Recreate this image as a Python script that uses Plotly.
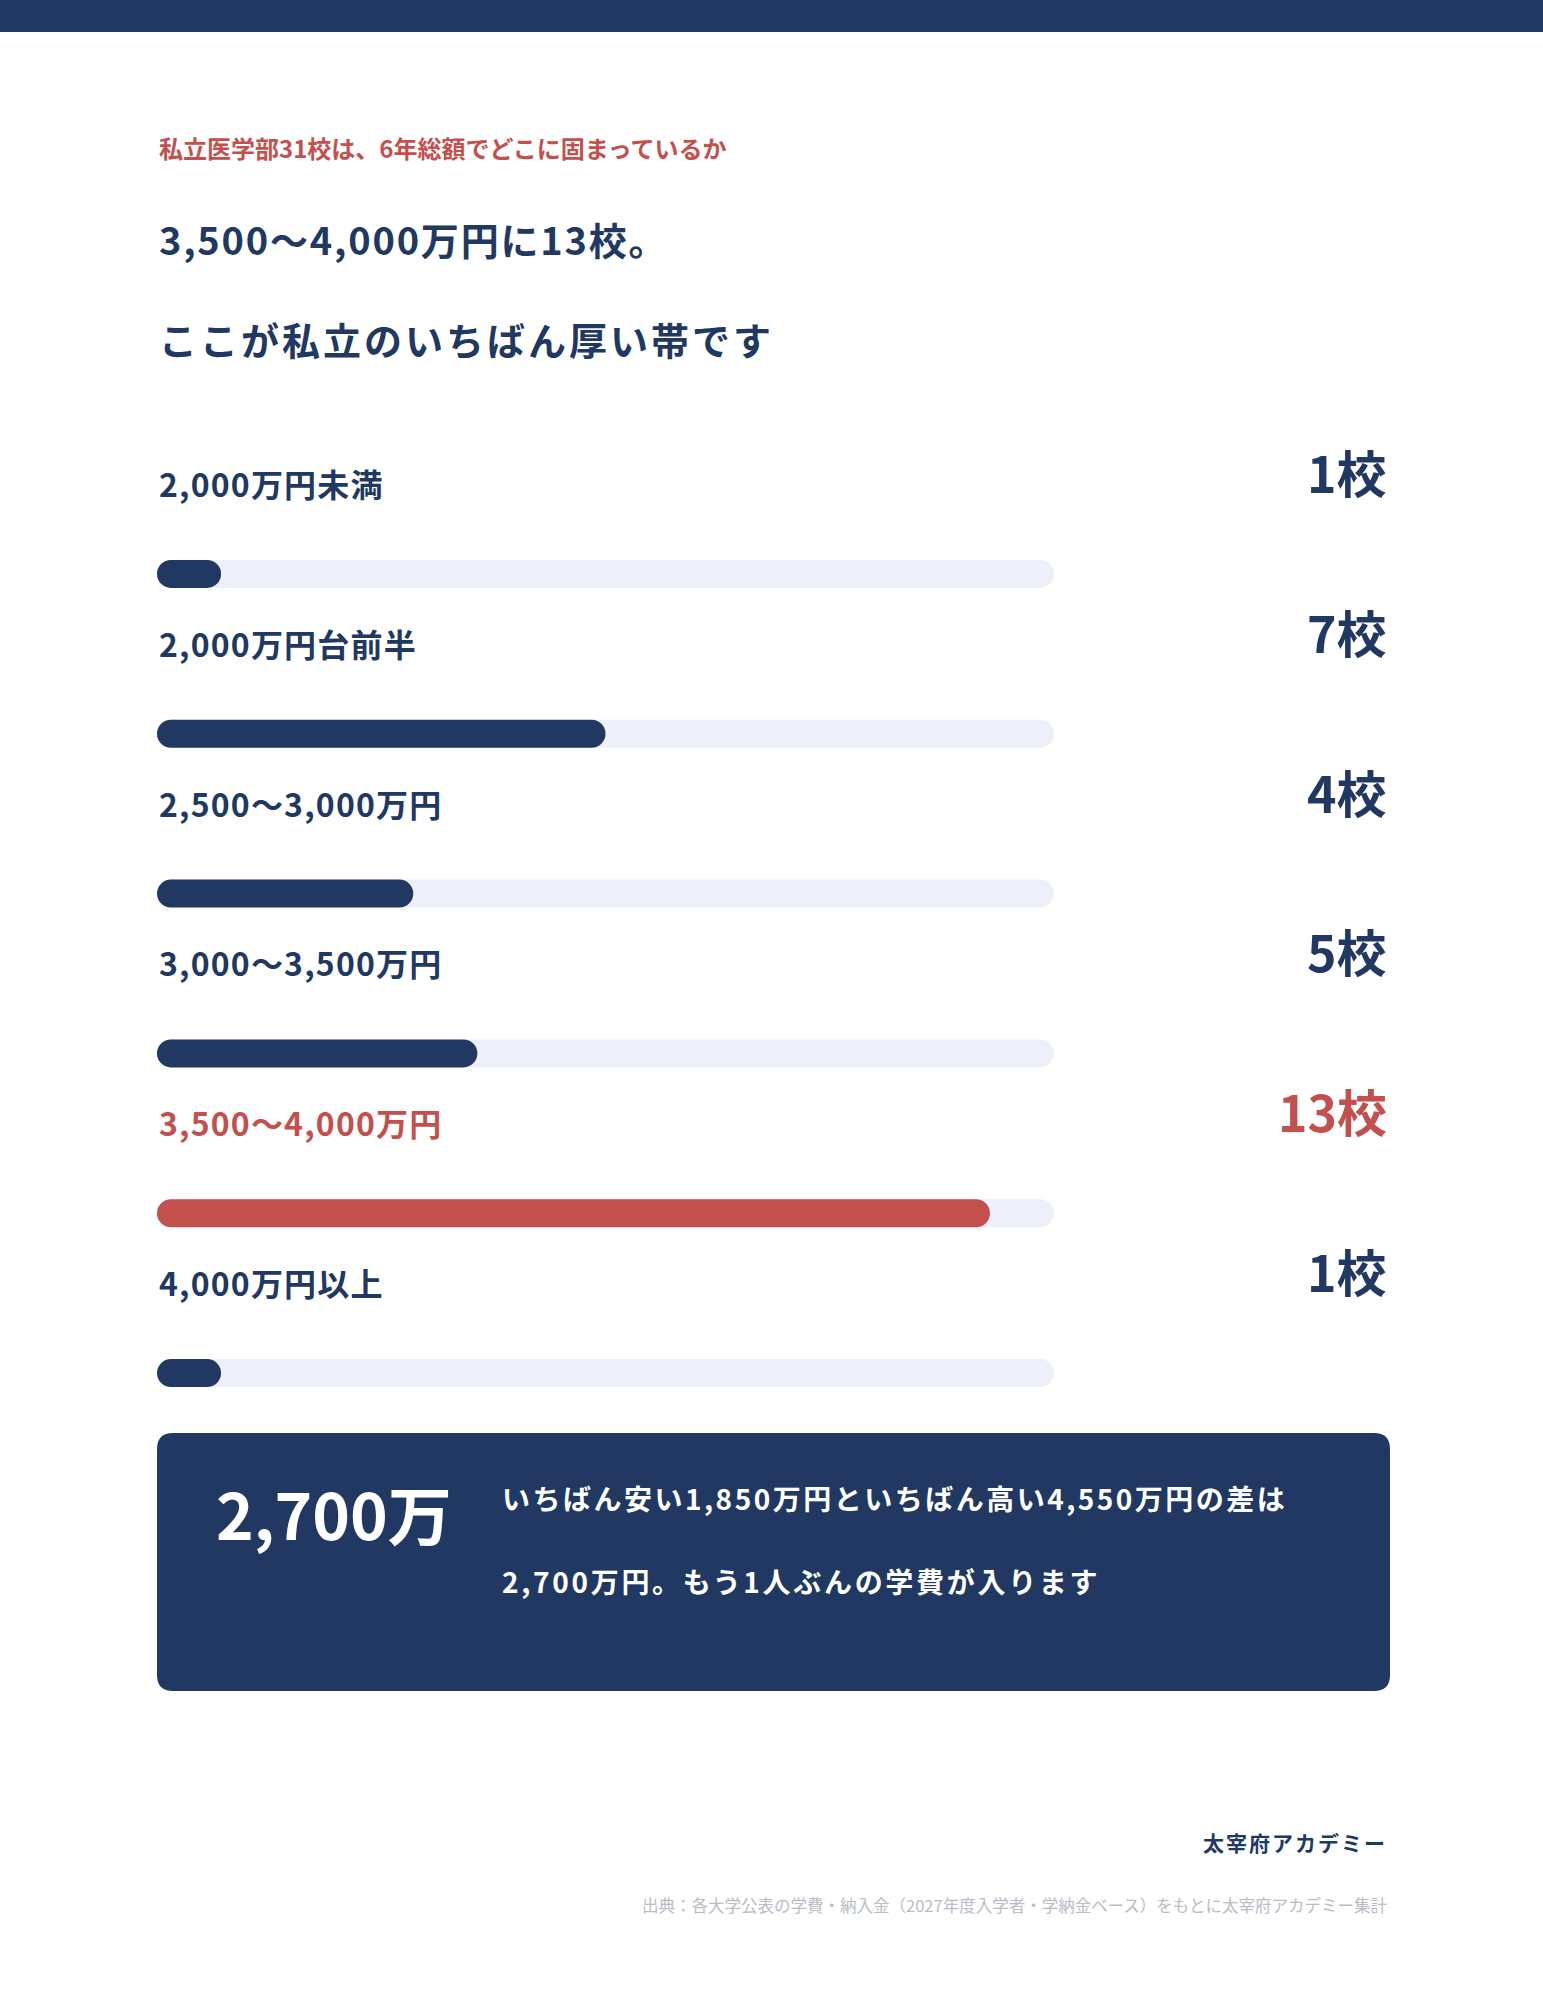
import plotly.graph_objects as go

W, H = 1543, 2000

# ---- data ----
categories = ["2,000万円未満", "2,000万円台前半", "2,500〜3,000万円",
              "3,000〜3,500万円", "3,500〜4,000万円", "4,000万円以上"]
counts = [1, 7, 4, 5, 13, 1]
count_labels = ["1校", "7校", "4校", "5校", "13校", "1校"]
highlight = "3,500〜4,000万円"
scale_max = 14

eyebrow = "私立医学部31校は、6年総額でどこに固まっているか"
headline1 = "3,500〜4,000万円に13校。"
headline2 = "ここが私立のいちばん厚い帯です"
callout_big = "2,700万"
callout_line1 = "いちばん安い1,850万円といちばん高い4,550万円の差は"
callout_line2 = "2,700万円。もう1人ぶんの学費が入ります"
brand = "太宰府アカデミー"
source = "出典：各大学公表の学費・納入金（2027年度入学者・学納金ベース）をもとに太宰府アカデミー集計"

# ---- style ----
NAVY = "#213862"
RED = "#c4504e"
TRACK = "#edf0f8"
GRAY = "#b7bcc8"
FONT = "Noto Sans CJK JP"


def X(px):
    return px / W


def Y(py):
    return 1 - py / H


def ls(text, sp):
    return f'<span style="letter-spacing:{sp}px">{text}</span>'


bar_colors = [RED if c == highlight else NAVY for c in categories]
txt_colors = bar_colors

row_top, row_bottom = 494, 1453
bar_thickness_px = 28
row_h = (row_bottom - row_top) / len(categories)
bw = bar_thickness_px / row_h
RIGHT = 1389

fig = go.Figure()


def pill(values, colors):
    # explicit base -> plotly rounds both ends of the bar
    fig.add_trace(go.Bar(
        y=categories, x=values, base=[0] * len(values), orientation="h",
        marker=dict(color=colors, cornerradius="50%", line=dict(width=0)),
        width=bw, hoverinfo="skip", showlegend=False,
    ))


pill([scale_max] * len(categories), TRACK)
pill(counts, bar_colors)

fig.update_layout(
    width=W, height=H, margin=dict(l=0, r=0, t=0, b=0),
    paper_bgcolor="white", plot_bgcolor="white", barmode="overlay",
    font=dict(family=FONT, color=NAVY),
    xaxis=dict(domain=[X(157), X(1054)], range=[0, scale_max], visible=False,
               fixedrange=True),
    yaxis=dict(domain=[Y(row_bottom), Y(row_top)], type="category",
               categoryorder="array", categoryarray=categories,
               range=[len(categories) - 0.5, -0.5], visible=False,
               fixedrange=True),
)

shapes = []
# top band
shapes.append(dict(type="rect", xref="paper", yref="paper", x0=0, x1=1,
                   y0=Y(32), y1=1, fillcolor=NAVY, line=dict(width=0), layer="below"))
# callout box with rounded corners
bx0, bx1, by0, by1, r = 157, RIGHT + 1, 1433, 1691, 16
path = (f"M {X(bx0 + r)},{Y(by0)} L {X(bx1 - r)},{Y(by0)} "
        f"Q {X(bx1)},{Y(by0)} {X(bx1)},{Y(by0 + r)} L {X(bx1)},{Y(by1 - r)} "
        f"Q {X(bx1)},{Y(by1)} {X(bx1 - r)},{Y(by1)} L {X(bx0 + r)},{Y(by1)} "
        f"Q {X(bx0)},{Y(by1)} {X(bx0)},{Y(by1 - r)} L {X(bx0)},{Y(by0 + r)} "
        f"Q {X(bx0)},{Y(by0)} {X(bx0 + r)},{Y(by0)} Z")
shapes.append(dict(type="path", xref="paper", yref="paper", path=path,
                   fillcolor=NAVY, line=dict(width=0), layer="below"))
fig.update_layout(shapes=shapes)

ann = []


def text(px, py, s, size, color=NAVY, anchor="left", weight=700):
    ann.append(dict(xref="paper", yref="paper", x=X(px), y=Y(py), text=s,
                    showarrow=False, xanchor=anchor, yanchor="middle",
                    font=dict(family=FONT, size=size, color=color, weight=weight)))


text(157, 147, eyebrow, 24, RED)
text(157, 238, ls(headline1, 1.8), 38)
text(157, 338, ls(headline2, 3), 38)

for cat, lab, col in zip(categories, count_labels, txt_colors):
    ann.append(dict(xref="paper", yref="y", x=X(157), y=cat, yshift=91,
                    text=ls(cat, 1.2), showarrow=False, xanchor="left", yanchor="middle",
                    font=dict(family=FONT, size=32, color=col, weight=700)))
    ann.append(dict(xref="paper", yref="y", x=X(RIGHT), y=cat, yshift=103,
                    text=lab, showarrow=False, xanchor="right", yanchor="middle",
                    font=dict(family=FONT, size=50, color=col, weight=700)))

text(214, 1512, callout_big, 64, "white")
text(500, 1498, ls(callout_line1, 2.5), 28, "white")
text(500, 1581, ls(callout_line2, 2.7), 28, "white")

text(RIGHT, 1842, ls(brand, 2), 21, NAVY, anchor="right")
text(RIGHT, 1905, source, 16.5, GRAY, anchor="right", weight=400)

fig.update_layout(annotations=ann)
fig.write_html("out.html", config={"displayModeBar": False},
               post_script="document.body.style.margin='0';document.body.style.overflow='hidden';")
